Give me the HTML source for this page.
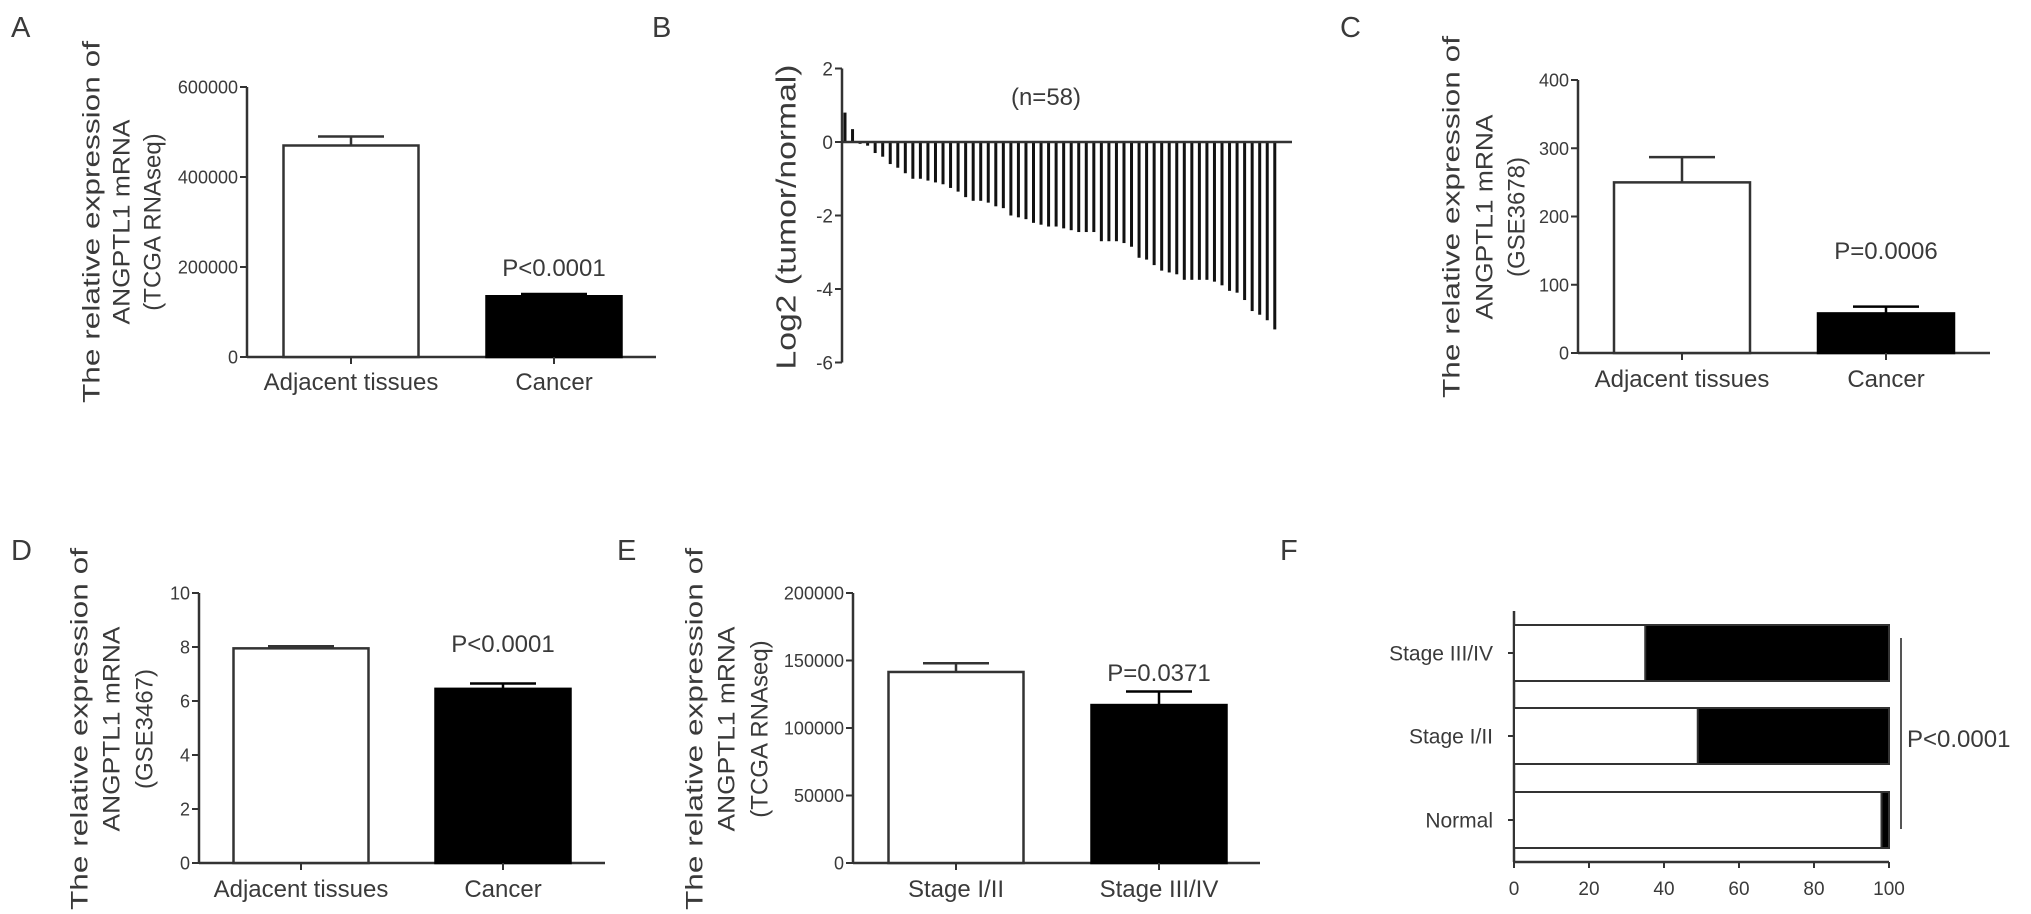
<!DOCTYPE html>
<html><head><meta charset="utf-8"><style>
html,body{margin:0;padding:0;background:#fff;}
svg{display:block;font-family:"Liberation Sans",Arial,sans-serif;}
text{fill:#3a3a3a;}
</style></head><body>
<svg id="fig" width="2031" height="914" viewBox="0 0 2031 914" xmlns="http://www.w3.org/2000/svg"></svg>
<script>
// Panel A
const aCats = ["Adjacent tissues", "Cancer"];
const aVals = [470000, 135000];
const aErr = [490000, 140000];
const aTicks = [0, 200000, 400000, 600000];
// Panel C
const cCats = ["Adjacent tissues", "Cancer"];
const cVals = [250, 58];
const cErr = [287, 68];
const cTicks = [0, 100, 200, 300, 400];
// Panel D
const dCats = ["Adjacent tissues", "Cancer"];
const dVals = [7.95, 6.45];
const dErr = [8.03, 6.65];
const dTicks = [0, 2, 4, 6, 8, 10];
// Panel E
const eCats = ["Stage I/II", "Stage III/IV"];
const eVals = [141500, 117000];
const eErr = [148000, 127000];
const eTicks = [0, 50000, 100000, 150000, 200000];
// Panel B
const bVals = [0.8,0.35,-0.05,-0.1,-0.3,-0.4,-0.6,-0.7,-0.85,-1.0,-1.0,-1.05,-1.1,-1.15,-1.25,-1.35,-1.5,-1.6,-1.6,-1.65,-1.75,-1.8,-2.0,-2.05,-2.1,-2.2,-2.25,-2.3,-2.3,-2.35,-2.4,-2.45,-2.45,-2.45,-2.7,-2.7,-2.7,-2.75,-2.85,-3.15,-3.2,-3.35,-3.5,-3.55,-3.6,-3.75,-3.75,-3.75,-3.75,-3.8,-3.9,-4.05,-4.1,-4.3,-4.6,-4.7,-4.85,-5.1];
const bTicks = [2, 0, -2, -4, -6];
// Panel F
const fCats = ["Stage III/IV", "Stage I/II", "Normal"];
const fWhite = [35, 49, 98];
const fTicks = [0, 20, 40, 60, 80, 100];

const svg = document.getElementById('fig');
const NS = 'http://www.w3.org/2000/svg';
function mk(tag, attrs, txt){
  const e = document.createElementNS(NS, tag);
  for (const k in attrs) e.setAttribute(k, attrs[k]);
  if (txt !== undefined) e.textContent = txt;
  svg.appendChild(e);
  return e;
}
const LC = '#333';

function letter(t, x, y){
  const e = mk('text', {x:x, y:y, 'font-size':29}, t);
  
  
}

function ylabel(lines, xs, cy, lens, key){
  lines.forEach((l, i) => {
    const attrs = {x:0, y:0, 'font-size':24, 'text-anchor':'middle',
      transform:'translate(' + xs[i] + ',' + cy + ') rotate(-90)', 'dominant-baseline':'central'};
    if (lens[i]) { attrs.textLength = lens[i]; attrs.lengthAdjust = 'spacingAndGlyphs'; }
    const e = mk('text', attrs, l);
    
    
  });
}

function barPanel(key, cats, vals, errs, ticks, g, pText, pX, pY){
  const max = ticks[ticks.length - 1];
  const y = v => g.y0 - (v / max) * (g.y0 - g.yTop);
  let e = mk('line', {x1:g.ax, y1:g.yTop, x2:g.ax, y2:g.y0, stroke:LC, 'stroke-width':2.5});
   
  e = mk('line', {x1:g.ax, y1:g.y0, x2:g.axEnd, y2:g.y0, stroke:LC, 'stroke-width':2.5});
   
  ticks.forEach(t => {
    mk('line', {x1:g.ax - 7, y1:y(t), x2:g.ax, y2:y(t), stroke:LC, 'stroke-width':2});
    e = mk('text', {x:g.ax - 9, y:y(t) + 6.5, 'font-size':18, 'text-anchor':'end'}, String(t));
     
  });
  cats.forEach((c, i) => {
    const cx = g.centers[i];
    const top = y(vals[i]);
    const ey = y(errs[i]);
    mk('line', {x1:cx, y1:top, x2:cx, y2:ey, stroke:i ? '#000' : LC, 'stroke-width':2.5});
    mk('line', {x1:cx - 33, y1:ey, x2:cx + 33, y2:ey, stroke:i ? '#000' : LC, 'stroke-width':2.5});
    e = mk('rect', {x:cx - g.bw / 2, y:top, width:g.bw, height:g.y0 - top, fill:i ? '#000' : '#fff', stroke:i ? '#000' : LC, 'stroke-width':2.5});
     
    mk('line', {x1:cx, y1:g.y0, x2:cx, y2:g.y0 + 7, stroke:LC, 'stroke-width':2});
    e = mk('text', {x:cx, y:g.labY, 'font-size':24, 'text-anchor':'middle'}, c);
     
  });
  e = mk('text', {x:pX, y:pY, 'font-size':24, 'text-anchor':'middle'}, pText);
   
}

// A
letter('A', 11, 37);
ylabel(['The relative expression of', 'ANGPTL1 mRNA', '(TCGA RNAseq)'], [92, 122, 153], 222, [362, 205, 0], 'a');
barPanel('a', aCats, aVals, aErr, aTicks, {ax:247, y0:357, yTop:87, axEnd:656, centers:[351, 554], bw:135, labY:390}, 'P<0.0001', 554, 276);
// C
letter('C', 1340, 37);
ylabel(['The relative expression of', 'ANGPTL1 mRNA', '(GSE3678)'], [1452, 1485, 1517], 217, [362, 205, 0], 'c');
barPanel('c', cCats, cVals, cErr, cTicks, {ax:1578, y0:353, yTop:80, axEnd:1990, centers:[1682, 1886], bw:136, labY:387}, 'P=0.0006', 1886, 259);
// D
letter('D', 11, 560);
ylabel(['The relative expression of', 'ANGPTL1 mRNA', '(GSE3467)'], [80, 112, 145], 729, [362, 205, 0], 'd');
barPanel('d', dCats, dVals, dErr, dTicks, {ax:199, y0:863, yTop:593, axEnd:605, centers:[301, 503], bw:135, labY:897}, 'P<0.0001', 503, 652);
// E
letter('E', 617, 560);
ylabel(['The relative expression of', 'ANGPTL1 mRNA', '(TCGA RNAseq)'], [695, 727, 760], 729, [362, 205, 0], 'e');
barPanel('e', eCats, eVals, eErr, eTicks, {ax:853, y0:863, yTop:593, axEnd:1260, centers:[956, 1159], bw:135, labY:897}, 'P=0.0371', 1159, 681);

// B
letter('B', 652, 37);
(function(){
  const ax = 842, zeroY = 142, unit = 36.75, x0 = 845, step = 7.54;
  const y = v => zeroY - v * unit;
  let e = mk('line', {x1:ax, y1:y(2), x2:ax, y2:y(-6), stroke:LC, 'stroke-width':2.5});
   
  bTicks.forEach(t => {
    mk('line', {x1:ax - 7, y1:y(t), x2:ax, y2:y(t), stroke:LC, 'stroke-width':2});
    e = mk('text', {x:ax - 9, y:y(t) + 7, 'font-size':19, 'text-anchor':'end'}, String(t));
     
  });
  bVals.forEach((v, i) => {
    const cx = x0 + i * step;
    e = mk('rect', {x:cx - 1.5, y:Math.min(y(v), zeroY), width:3, height:Math.abs(v) * unit, fill:'#111'});
     
  });
  e = mk('line', {x1:ax, y1:zeroY, x2:1292, y2:zeroY, stroke:LC, 'stroke-width':2.5});
   
  e = mk('text', {x:0, y:0, 'font-size':28, 'text-anchor':'middle', 'dominant-baseline':'central', textLength:305, lengthAdjust:'spacingAndGlyphs', transform:'translate(786,217) rotate(-90)'}, 'Log2 (tumor/normal)');
   
  e = mk('text', {x:1046, y:105, 'font-size':24, 'text-anchor':'middle'}, '(n=58)');
   
})();

// F
letter('F', 1280, 560);
(function(){
  const ax = 1514, axisY = 862, unit = 3.75, tops = [625, 708, 792], h = 56;
  const x = v => ax + v * unit;
  let e = mk('line', {x1:ax, y1:611, x2:ax, y2:axisY, stroke:LC, 'stroke-width':2.5});
   
  e = mk('line', {x1:ax, y1:axisY, x2:x(100), y2:axisY, stroke:LC, 'stroke-width':2.5});
   
  fTicks.forEach(t => {
    mk('line', {x1:x(t), y1:axisY, x2:x(t), y2:axisY + 6, stroke:LC, 'stroke-width':2});
    e = mk('text', {x:x(t), y:895, 'font-size':19, 'text-anchor':'middle'}, String(t));
     
  });
  fCats.forEach((c, i) => {
    const ty = tops[i];
    e = mk('rect', {x:x(0), y:ty, width:x(100) - x(0), height:h, fill:'#000', stroke:LC, 'stroke-width':2});
     
    e = mk('rect', {x:x(0), y:ty, width:x(fWhite[i]) - x(0), height:h, fill:'#fff', stroke:LC, 'stroke-width':2});
     
    mk('line', {x1:ax - 6, y1:ty + h / 2, x2:ax, y2:ty + h / 2, stroke:LC, 'stroke-width':2});
    e = mk('text', {x:1493, y:ty + h / 2 + 7.5, 'font-size':21, 'text-anchor':'end'}, c);
     
  });
  e = mk('line', {x1:1901, y1:638, x2:1901, y2:829, stroke:'#555', 'stroke-width':2});
   
  e = mk('text', {x:1907, y:747, 'font-size':24}, 'P<0.0001');
   
})();
</script>
</body></html>
